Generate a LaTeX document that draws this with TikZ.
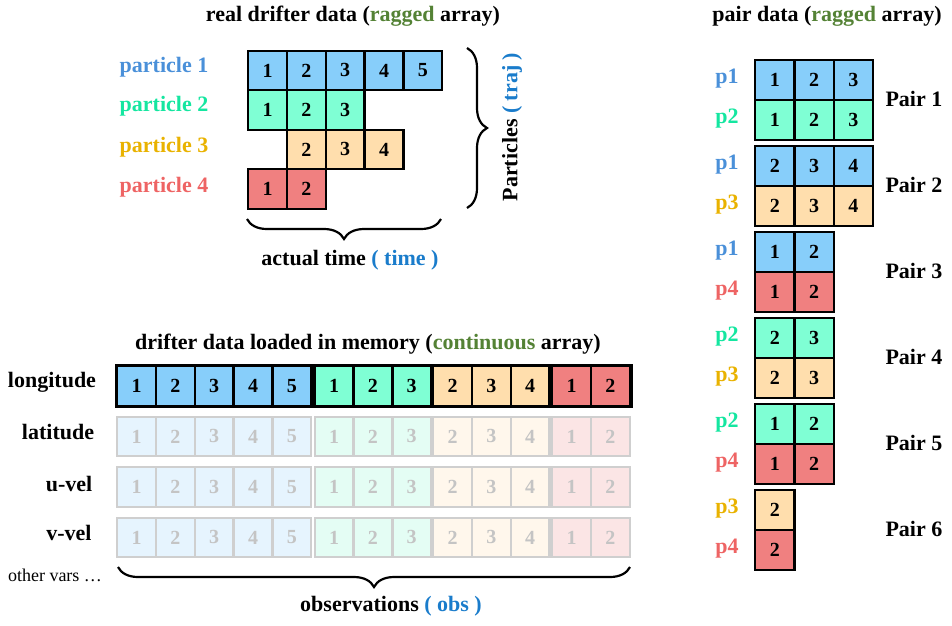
\documentclass[tikz,border=0pt]{standalone}
\usepackage{fontspec}
\setmainfont{Liberation Serif}
\usetikzlibrary{decorations.pathreplacing}
\definecolor{bFill}{HTML}{87CEFA}
\definecolor{gFill}{HTML}{7FFFD4}
\definecolor{oFill}{HTML}{FFDEAD}
\definecolor{rFill}{HTML}{F08080}
\definecolor{bFade}{HTML}{E6F4FE}
\definecolor{gFade}{HTML}{E4FDF4}
\definecolor{oFade}{HTML}{FFF7EC}
\definecolor{rFade}{HTML}{FBE5E5}
\definecolor{fadeLine}{HTML}{CFCFCF}
\definecolor{fadeText}{HTML}{C4C4C4}
\definecolor{tBlue}{HTML}{4A90D9}
\definecolor{tGreen}{HTML}{14E6A0}
\definecolor{tOrange}{HTML}{E9B200}
\definecolor{tRed}{HTML}{EE6464}
\definecolor{kBlue}{HTML}{1A7CCB}
\definecolor{wGreen}{HTML}{548235}
\newcommand\cellrow[6]{%
  \edef\cellrowlist{#6}%
  \foreach \v [count=\k] in \cellrowlist{
    \node[#5, minimum width=#4 pt] (#1-\k) at ({#2+(\k-1)*#4},#3) {\v};
  }}
\begin{document}
\begin{tikzpicture}[x=1pt,y=-1pt,
  cell/.style={draw=black, line width=2.4pt, minimum height=39.5pt, inner sep=0pt,
    anchor=north west, font=\fontsize{20}{20}\selectfont\bfseries},
  fcell/.style={cell, draw=fadeLine, text=fadeText},
  lbl/.style={font=\fontsize{22}{24}\selectfont\bfseries},
  grp/.style={draw=black, line width=3pt},
  brc/.style={decorate, line width=2.2pt, decoration={brace, amplitude=20pt}},
  brcm/.style={decorate, line width=2.2pt, decoration={brace, mirror, amplitude=20pt}}]
\useasboundingbox (0,0) rectangle (952,625);

% ---------- top: real drifter data ----------
\node[lbl] (t1) at (353,16) {real drifter data (\textcolor{wGreen}{ragged} array)};
\cellrow{ra}{247}{49.5}{38.8}{cell,fill=bFill}{1,2,3,4,5}
\cellrow{rb}{247}{89}{38.8}{cell,fill=gFill}{1,2,3}
\cellrow{rc}{285.8}{128.5}{38.8}{cell,fill=oFill}{2,3,4}
\cellrow{rd}{247}{168}{38.8}{cell,fill=rFill}{1,2}
\node[lbl,text=tBlue] (l1) at (164,67) {particle 1};
\node[lbl,text=tGreen] (l2) at (164,106) {particle 2};
\node[lbl,text=tOrange] (l3) at (164,147) {particle 3};
\node[lbl,text=tRed] (l4) at (164,187) {particle 4};
\coordinate (bra1) at (467,48);
\coordinate (bra2) at (467,208);
\draw[brc] (bra1) -- (bra2);
\node[lbl,rotate=90] (t3) at (512,127) {Particles \textcolor{kBlue}{( traj )}};
\coordinate (brb1) at (247,219);
\coordinate (brb2) at (441,219);
\draw[brcm] (brb1) -- (brb2);
\node[lbl] (t2) at (350,260) {actual time \textcolor{kBlue}{( time )}};

% ---------- bottom: continuous array ----------
\node[lbl] (t4) at (368,344) {drifter data loaded in memory (\textcolor{wGreen}{continuous} array)};
\cellrow{lonb}{116}{365}{38.8}{cell,fill=bFill}{1,2,3,4,5}
\cellrow{long}{313.5}{365}{38.8}{cell,fill=gFill}{1,2,3}
\cellrow{lono}{432}{365}{38.8}{cell,fill=oFill}{2,3,4}
\cellrow{lonr}{551}{365}{38.8}{cell,fill=rFill}{1,2}
\draw[grp] (lonb-1.north west) rectangle (lonb-5.south east);
\draw[grp] (long-1.north west) rectangle (long-3.south east);
\draw[grp] (lono-1.north west) rectangle (lono-3.south east);
\draw[grp] (lonr-1.north west) rectangle (lonr-2.south east);
\foreach \nm/\yy in {lat/415.5, uv/466, vv/516.5}{
  \cellrow{\nm b}{116}{\yy}{38.8}{fcell,fill=bFade}{1,2,3,4,5}
  \cellrow{\nm g}{313.5}{\yy}{38.8}{fcell,fill=gFade}{1,2,3}
  \cellrow{\nm o}{432}{\yy}{38.8}{fcell,fill=oFade}{2,3,4}
  \cellrow{\nm r}{551}{\yy}{38.8}{fcell,fill=rFade}{1,2}
}
\node[lbl] (v1) at (52,382) {longitude};
\node[lbl] (v2) at (58,432) {latitude};
\node[lbl] (v3) at (69,484) {u-vel};
\node[lbl] (v4) at (69,533) {v-vel};
\node[font=\fontsize{18}{20}\selectfont] (v5) at (55,575) {other vars …};
\coordinate (brc1) at (118,567);
\coordinate (brc2) at (630,567);
\draw[brcm] (brc1) -- (brc2);
\node[lbl] (t5) at (391,606) {observations \textcolor{kBlue}{( obs )}};

% ---------- right: pair data ----------
\node[lbl] (t6) at (827,16) {pair data (\textcolor{wGreen}{ragged} array)};
\foreach \pk/\yy/\fa/\fb/\ca/\cb/\la/\lb/\vals in {
   1/59/bFill/gFill/tBlue/tGreen/p1/p2/{1,2,3},
   2/144.5/bFill/oFill/tBlue/tOrange/p1/p3/{2,3,4},
   3/230.5/bFill/rFill/tBlue/tRed/p1/p4/{1,2},
   4/316.5/gFill/oFill/tGreen/tOrange/p2/p3/{2,3},
   5/402.5/gFill/rFill/tGreen/tRed/p2/p4/{1,2},
   6/489/oFill/rFill/tOrange/tRed/p3/p4/{2}}{
  \cellrow{p\pk a}{754}{\yy}{39.3}{cell,minimum height=40pt,fill=\fa}{\vals}
  \cellrow{p\pk b}{754}{\yy+40}{39.3}{cell,minimum height=40pt,fill=\fb}{\vals}
  \node[lbl,text=\ca] (pl\pk a) at (727,\yy+20) {\la};
  \node[lbl,text=\cb] (pl\pk b) at (727,\yy+60) {\lb};
  \node[lbl,anchor=west] (pn\pk) at (882,\yy+40) {Pair \pk};
}
\end{tikzpicture}
\end{document}
